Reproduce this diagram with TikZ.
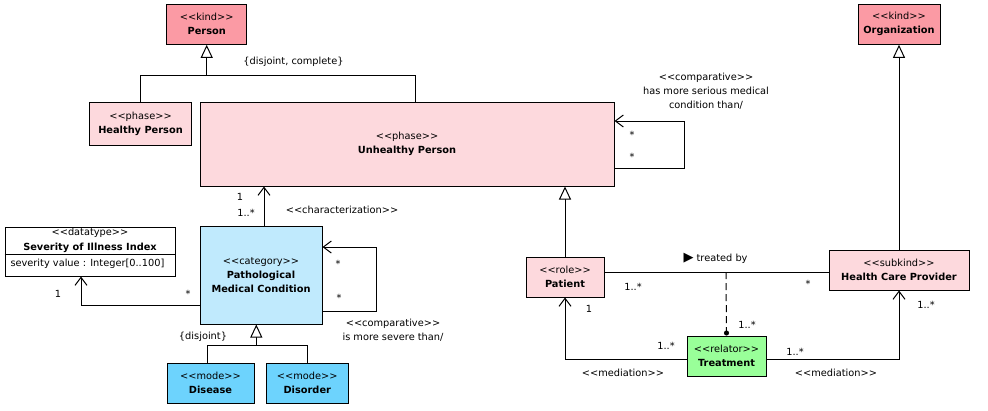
\documentclass[tikz,border=0pt]{standalone}
\usepackage{fontspec}
\setmainfont{DejaVu Sans}
\usetikzlibrary{arrows.meta}
\definecolor{kindc}{HTML}{FB9AA4}
\definecolor{phasec}{HTML}{FDD9DD}
\definecolor{catc}{HTML}{C0EAFD}
\definecolor{modec}{HTML}{6DD3FD}
\definecolor{relc}{HTML}{99FF99}
\newcommand{\stt}[1]{<{}<#1>{}>}
\tikzset{
  every node/.style={font=\fontsize{9.8}{14}\selectfont},
  box/.style={draw, line width=1pt, inner sep=0pt, align=center},
  lbl/.style={inner sep=0pt, align=center},
  gen/.style={-{Triangle[open, length=13pt, width=12pt, fill=white]}},
  nav/.style={-{Straight Barb[length=8pt, width=12pt]}},
}
\begin{document}
\begin{tikzpicture}[x=1pt, y=-1pt, line width=1pt]
\useasboundingbox (0,0) rectangle (988,410);
% classes
\node[box, fill=kindc, minimum width=80pt, minimum height=40pt] (person) at (206.7,24.3) {\stt{kind}\\\textbf{Person}};
\node[box, fill=phasec, minimum width=102pt, minimum height=43pt] (healthy) at (140.5,123.7) {\stt{phase}\\\textbf{Healthy Person}};
\node[box, fill=phasec, minimum width=414pt, minimum height=84pt] (unhealthy) at (407,144) {\stt{phase}\\\textbf{Unhealthy Person}};
\node[box, fill=kindc, minimum width=82pt, minimum height=40pt] (org) at (899,24.3) {\stt{kind}\\\textbf{Organization}};
\node[box, fill=phasec, minimum width=140pt, minimum height=40pt] (hcp) at (899,270) {\stt{subkind}\\\textbf{Health Care Provider}};
\node[box, fill=phasec, minimum width=78pt, minimum height=40pt] (patient) at (565,277) {\stt{role}\\\textbf{Patient}};
\node[box, fill=relc, minimum width=79pt, minimum height=40pt] (treat) at (726.5,356) {\stt{relator}\\\textbf{Treatment}};
\node[box, fill=catc, minimum width=122pt, minimum height=98pt] (path) at (261,275) {\stt{category}\\\textbf{Pathological}\\\textbf{Medical Condition}};
\node[box, fill=modec, minimum width=87pt, minimum height=40pt] (disease) at (210.5,383) {\stt{mode}\\\textbf{Disease}};
\node[box, fill=modec, minimum width=82pt, minimum height=40pt] (disorder) at (307.3,383) {\stt{mode}\\\textbf{Disorder}};
\node[box, fill=white, minimum width=170pt, minimum height=49pt] (sev) at (90,251.5) {};
\draw (sev.west |- 0,254) -- (sev.east |- 0,254);
\node[lbl] (sevst) at (90,233) {\stt{datatype}};
\node[lbl] (sevname) at (90,247.5) {\textbf{Severity of Illness Index}};
\node[lbl, anchor=west] (sevattr) at (10,264) {severity value : Integer[0..100]};
% generalization Person
\coordinate (gp) at (206.7,75);
\draw (healthy.north) |- (gp);
\draw ([xshift=8pt]unhealthy.north) |- (gp);
\draw[gen] (gp) -- (person.south);
\node[lbl] (dc) at (293.5,62) {\{disjoint, complete\}};
% self loop unhealthy
\draw[nav] ([yshift=-24pt]unhealthy.east) -| (684,121) -- ([yshift=23pt]unhealthy.east);
\node[lbl] (u1) at (632,135) {*};
\node[lbl] (u2) at (632,157) {*};
\node[lbl] (ucmp) at (706,91) {\stt{comparative}\\has more serious medical\\condition than/};
% org generalization
\draw[gen] (hcp.north) -- (org.south);
% patient generalization
\draw[gen] (patient.north) -- (patient.north |- unhealthy.south);
% treated by
\coordinate (tb) at (726,272);
\draw ([yshift=5pt]patient.east) -- ([yshift=5pt]patient.east -| hcp.west);
\node[lbl, anchor=west] (tbl) at (683,258) {\fontsize{13}{13}\selectfont ▶\fontsize{9.8}{14}\selectfont\ treated by};
\node[lbl] (pm1) at (633,287) {1..*};
\node[lbl] (pm2) at (808,284) {*};
\draw[dashed, dash pattern=on 7pt off 4pt, -{Circle[length=5pt]}] (tb) -- (treat.north);
\node[lbl] (tm) at (747,325) {1..*};
% mediations
\draw[nav] ([yshift=-3pt]treat.west) -| (patient.south);
\draw[nav] ([yshift=-3pt]treat.east) -| (hcp.south);
\node[lbl] (m1) at (589,309) {1};
\node[lbl] (m2) at (666,346) {1..*};
\node[lbl] (m3) at (623,373) {\stt{mediation}};
\node[lbl] (m4) at (795,352) {1..*};
\node[lbl] (m5) at (926,305) {1..*};
\node[lbl] (m6) at (836,373) {\stt{mediation}};
% characterization
\draw[nav] ([xshift=3pt]path.north) -- ([xshift=3pt]path.north |- unhealthy.south);
\node[lbl] (c1) at (240,197) {1};
\node[lbl] (c2) at (246,213) {1..*};
\node[lbl] (c3) at (342,210) {\stt{characterization}};
% severity association
\draw[nav] ([yshift=-30pt]path.west) -| ([xshift=-9pt]sev.south);
\node[lbl] (s1) at (58,294) {1};
\node[lbl] (s2) at (188,294) {*};
% self loop pathological
\draw[nav] ([yshift=-36pt]path.east) -| (376,247) -- ([yshift=28pt]path.east);
\node[lbl] (p1) at (338,264) {*};
\node[lbl] (p2) at (339,298) {*};
\node[lbl] (pcmp) at (393,330) {\stt{comparative}\\is more severe than/};
% generalization pathological
\coordinate (gd) at (256.3,345);
\draw ([xshift=-3.3pt]disease.north) |- (gd);
\draw (disorder.north) |- (gd);
\draw[gen] (gd) -- (gd |- path.south);
\node[lbl] (dj) at (203,337) {\{disjoint\}};
\end{tikzpicture}
\end{document}
